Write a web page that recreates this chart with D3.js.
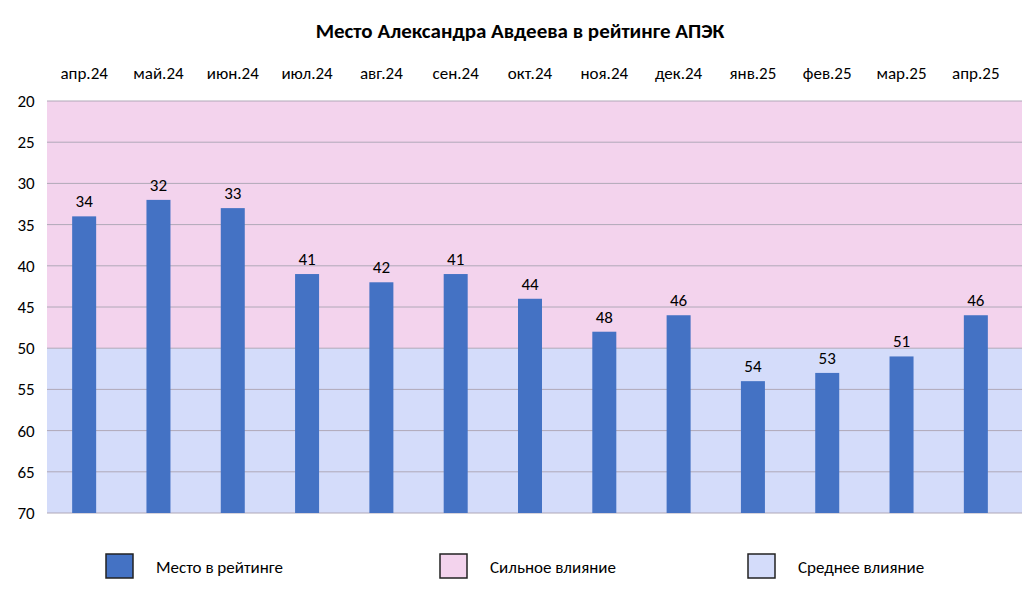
<!DOCTYPE html>
<html><head><meta charset="utf-8">
<script src="https://cdn.jsdelivr.net/npm/d3@7"></script>
<style>body{margin:0;background:#fff;font-family:Calibri,"Liberation Sans",Arial,sans-serif}</style>
</head><body><svg id="c" width="1024" height="606"></svg>
<script>
const categories=["апр.24","май.24","июн.24","июл.24","авг.24","сен.24","окт.24","ноя.24","дек.24","янв.25","фев.25","мар.25","апр.25"];
const values=[34,32,33,41,42,41,44,48,46,54,53,51,46];
const yTicks=[20,25,30,35,40,45,50,55,60,65,70];
const bands=[{from:20,to:50,color:"#f3d3ed"},{from:50,to:70,color:"#d4dcfa"}];
const legendItems=[{label:"Место в рейтинге",color:"#4472c4"},{label:"Сильное влияние",color:"#f3d3ed"},{label:"Среднее влияние",color:"#d4dcfa"}];

const svg=d3.select("#c");
const L=47,R=1022;
const x=d3.scaleBand().domain(categories).range([47,1013]);
const y=d3.scaleLinear().domain([20,70]).range([101,513]);
svg.selectAll("rect.band").data(bands).join("rect").attr("x",L).attr("width",R-L)
 .attr("y",d=>y(d.from)).attr("height",d=>y(d.to)-y(d.from)).attr("fill",d=>d.color);
svg.selectAll("line.g").data(yTicks).join("line").attr("x1",L).attr("x2",R)
 .attr("y1",d=>y(d)).attr("y2",d=>y(d)).attr("stroke","#b0a8b8").attr("stroke-width",1);
svg.selectAll("text.yt").data(yTicks).join("text").attr("x",26).attr("y",d=>y(d)+6)
 .attr("text-anchor","middle").attr("font-size",17).text(d=>d);
svg.selectAll("rect.bar").data(values).join("rect")
 .attr("x",(d,i)=>x(categories[i])+x.bandwidth()/2-12).attr("width",24)
 .attr("y",d=>y(d)).attr("height",d=>y(70)-y(d)).attr("fill","#4472c4");
svg.selectAll("text.v").data(values).join("text")
 .attr("x",(d,i)=>x(categories[i])+x.bandwidth()/2).attr("y",d=>y(d)-9)
 .attr("text-anchor","middle").attr("font-size",17).text(d=>d);
svg.selectAll("text.c").data(categories).join("text")
 .attr("x",d=>x(d)+x.bandwidth()/2).attr("y",79).attr("text-anchor","middle").attr("font-size",17).text(d=>d);
svg.append("text").attr("x",520).attr("y",38).attr("text-anchor","middle").attr("font-size",21).attr("font-weight","bold")
 .text("Место Александра Авдеева в рейтинге АПЭК");
const lx=[106,440,748];
legendItems.forEach((d,i)=>{
 svg.append("rect").attr("x",lx[i]).attr("y",554).attr("width",27).attr("height",24).attr("fill",d.color).attr("stroke","#222").attr("stroke-width",1.5);
 svg.append("text").attr("x",lx[i]+50).attr("y",573).attr("font-size",17).text(d.label);
});
</script></body></html>
